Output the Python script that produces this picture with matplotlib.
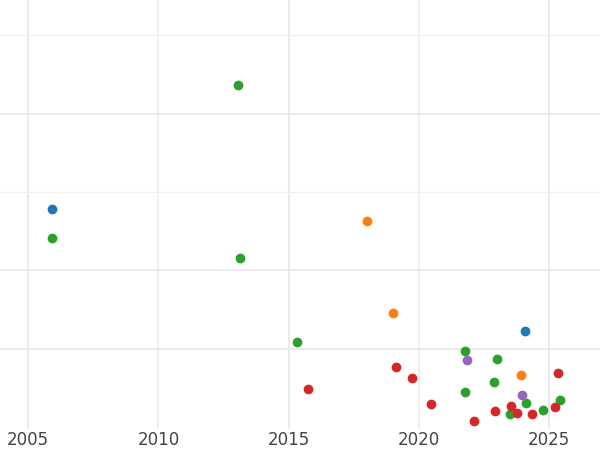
import matplotlib
matplotlib.use("Agg")
import matplotlib.pyplot as plt

blue_x = [2005.92, 2024.08]
blue_y = [2.78, 1.22]
green_x = [2013.06, 2005.92, 2013.14, 2015.33, 2021.78, 2023.0, 2022.89, 2021.78, 2024.12, 2023.50, 2024.77, 2025.42]
green_y = [4.36, 2.41, 2.16, 1.09, 0.97, 0.87, 0.58, 0.44, 0.30, 0.17, 0.22, 0.35]
orange_x = [2018.01, 2019.01, 2023.93]
orange_y = [2.63, 1.45, 0.66]
red_x = [2015.75, 2019.13, 2019.74, 2020.47, 2022.12, 2022.93, 2023.54, 2023.77, 2024.34, 2025.23, 2025.35]
red_y = [0.49, 0.76, 0.63, 0.29, 0.07, 0.20, 0.27, 0.18, 0.16, 0.26, 0.69]
purple_x = [2021.85, 2023.96]
purple_y = [0.86, 0.41]
x_ticks = [2005, 2010, 2015, 2020, 2025]

fig = plt.figure(figsize=(6, 4.5), dpi=100)
ax = fig.add_axes([0, 0.046, 1, 0.954])
for s in ax.spines.values():
    s.set_visible(False)
ax.set_xlim(2003.92, 2026.95)
ax.set_ylim(-0.03, 5.45)
ax.set_xticks(x_ticks)
ax.set_xticks([2010.001, 2020.001], minor=True)
ax.set_yticks([1, 2, 4])
ax.set_yticks([3, 5], minor=True)
ax.grid(True, which="major", axis="y", color="#e6e6e6", lw=1.2)
ax.grid(True, which="minor", axis="y", color="#f0f0f0", lw=0.8)
for xv in x_ticks:
    ax.axvline(xv, color="#e6e6e6" if xv % 10 == 5 else "#eeeeee", lw=1.2, zorder=0)
ax.tick_params(axis="y", which="both", left=False, labelleft=False)
ax.tick_params(axis="x", which="both", length=0, labelsize=12, labelcolor="#444444", pad=1)
ax.set_axisbelow(True)
for xs, ys, c in [(blue_x, blue_y, "#1f77b4"), (green_x, green_y, "#2ca02c"),
                  (orange_x, orange_y, "#ff7f0e"), (red_x, red_y, "#d62728"),
                  (purple_x, purple_y, "#9467bd")]:
    ax.scatter(xs, ys, s=36, color=c, zorder=3, clip_on=False)
fig.savefig("out.png")
